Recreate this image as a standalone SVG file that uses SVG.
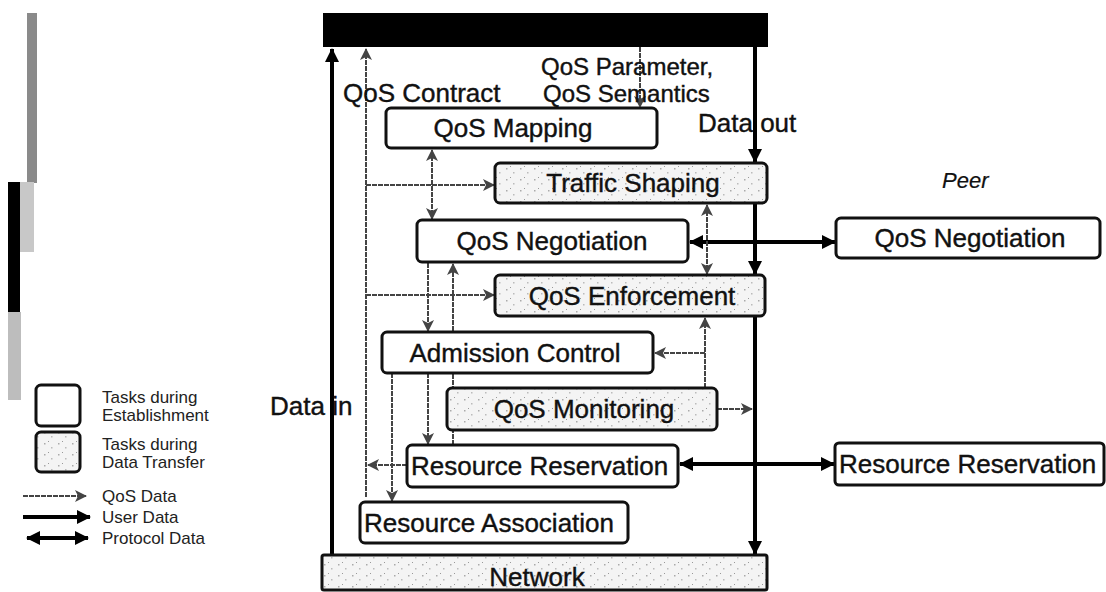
<svg xmlns="http://www.w3.org/2000/svg" width="1106" height="592" viewBox="0 0 1106 592">
<style>
.box{fill:#fff;stroke:#111;stroke-width:3}
.dot{fill:url(#speck);stroke:#111;stroke-width:3}
.t{font-family:"Liberation Sans",Arial,sans-serif;font-size:26px;fill:#111;stroke:#111;stroke-width:0.4}
.tm{text-anchor:middle}
.lg{font-family:"Liberation Sans",Arial,sans-serif;font-size:17px;fill:#222}
.ud{stroke:#000;stroke-width:4;fill:none}
.qd{stroke:#444;stroke-width:2;fill:none;stroke-dasharray:5 1}
.pd{stroke:#000;stroke-width:4;fill:none}
</style>
<defs>
<pattern id="speck" width="14" height="11" patternUnits="userSpaceOnUse">
<rect width="14" height="11" fill="#f4f4f4"/>
<rect x="2" y="3" width="1.5" height="1.5" fill="#aaa"/>
<rect x="9" y="7" width="1.5" height="1.5" fill="#bbb"/>
<rect x="6" y="1" width="1" height="1" fill="#999"/>
</pattern>
<marker id="ua" viewBox="0 0 14 14" refX="13" refY="7" markerWidth="14" markerHeight="14" markerUnits="userSpaceOnUse" orient="auto-start-reverse">
<path d="M0,0 L14,7 L0,14 z" fill="#000"/>
</marker>
<marker id="qa" viewBox="0 0 12 12" refX="11" refY="6" markerWidth="12" markerHeight="12" markerUnits="userSpaceOnUse" orient="auto-start-reverse">
<path d="M0,0 L12,6 L0,12 L3,6 z" fill="#444"/>
</marker>
</defs>

<!-- scan artefacts at left edge -->
<rect x="27" y="13" width="10" height="170" fill="#8a8a8a"/>
<rect x="8" y="182" width="12" height="130" fill="#000"/>
<rect x="20" y="182" width="14" height="70" fill="#c8c8c8"/>
<rect x="8" y="312" width="13" height="88" fill="#bdbdbd"/>

<!-- top black bar -->
<rect id="app" x="323" y="13" width="445" height="34" fill="#000"/>

<g id="connectors">
<!-- user data -->
<path class="ud" d="M332,555 V49" marker-end="url(#ua)"/>
<path class="ud" d="M755,47 V162" marker-end="url(#ua)"/>
<path class="ud" d="M755,203 V274" marker-end="url(#ua)"/>
<path class="ud" d="M755,315 V554" marker-end="url(#ua)"/>
<!-- protocol data -->
<path class="pd" d="M690,242 H835" marker-start="url(#ua)" marker-end="url(#ua)"/>
<path class="pd" d="M680,464 H834" marker-start="url(#ua)" marker-end="url(#ua)"/>
<!-- qos data -->
<path class="qd" d="M366,497 V49" marker-end="url(#qa)"/>
<path class="qd" d="M640,47 V107" marker-end="url(#qa)"/>
<path class="qd" d="M432,150 V219" marker-start="url(#qa)" marker-end="url(#qa)"/>
<path class="qd" d="M366,185 H494" marker-end="url(#qa)"/>
<path class="qd" d="M428,263 V331" marker-end="url(#qa)"/>
<path class="qd" d="M366,295 H494" marker-end="url(#qa)"/>
<path class="qd" d="M453,445 V264" marker-end="url(#qa)"/>
<path class="qd" d="M707,205 V274" marker-start="url(#qa)" marker-end="url(#qa)"/>
<path class="qd" d="M705,388 V318" marker-end="url(#qa)"/>
<path class="qd" d="M705,353 H655" marker-end="url(#qa)"/>
<path class="qd" d="M717,409 H752" marker-end="url(#qa)"/>
<path class="qd" d="M392,373 V501" marker-end="url(#qa)"/>
<path class="qd" d="M428,373 V444" marker-end="url(#qa)"/>
<path class="qd" d="M407,465 H368" marker-end="url(#qa)"/>
</g>

<!-- free labels -->
<text class="t" x="541" y="75" style="font-size:24px">QoS Parameter,</text>
<text class="t" x="543" y="102" style="font-size:24px">QoS Semantics</text>
<text class="t" x="343" y="102">QoS Contract</text>
<text class="t" x="698" y="132">Data out</text>
<text class="t" x="270" y="415">Data in</text>
<text class="t" x="942" y="188" style="font-style:italic;font-size:22px;stroke-width:0.2">Peer</text>

<g id="qos-mapping"><rect class="box" x="386" y="108" width="271" height="40" rx="5"/><text class="t tm" x="513" y="137">QoS Mapping</text></g>
<g id="traffic-shaping"><rect class="dot" x="495" y="163" width="272" height="40" rx="5"/><text class="t tm" x="633" y="192">Traffic Shaping</text></g>
<g id="qos-negotiation"><rect class="box" x="417" y="220" width="271" height="42" rx="5"/><text class="t tm" x="552" y="250">QoS Negotiation</text></g>
<g id="qos-enforcement"><rect class="dot" x="495" y="275" width="270" height="41" rx="5"/><text class="t tm" x="632" y="305">QoS Enforcement</text></g>
<g id="admission-control"><rect class="box" x="382" y="332" width="271" height="41" rx="5"/><text class="t tm" x="515" y="362">Admission Control</text></g>
<g id="qos-monitoring"><rect class="dot" x="447" y="388" width="270" height="42" rx="5"/><text class="t tm" x="584" y="418">QoS Monitoring</text></g>
<g id="resource-reservation"><rect class="box" x="407" y="445" width="271" height="42" rx="5"/><text class="t" x="411" y="475">Resource Reservation</text></g>
<g id="resource-association"><rect class="box" x="360" y="502" width="268" height="41" rx="5"/><text class="t" x="364" y="532">Resource Association</text></g>
<g id="network"><rect class="dot" x="322" y="555" width="445" height="35" rx="2"/><text class="t tm" x="537" y="586">Network</text></g>
<g id="peer-qos-negotiation"><rect class="box" x="836" y="218" width="264" height="40" rx="5"/><text class="t tm" x="970" y="247">QoS Negotiation</text></g>
<g id="peer-resource-reservation"><rect class="box" x="835" y="443" width="269" height="42" rx="4"/><text class="t" x="839" y="473">Resource Reservation</text></g>

<g id="legend">
<rect class="box" x="36" y="385" width="44" height="41" rx="5"/>
<rect class="dot" x="36" y="432" width="44" height="40" rx="5"/>
<text class="lg" x="102" y="403">Tasks during</text>
<text class="lg" x="102" y="421">Establishment</text>
<text class="lg" x="102" y="450">Tasks during</text>
<text class="lg" x="102" y="468">Data Transfer</text>
<path class="qd" d="M23,496 H86" marker-end="url(#qa)"/>
<text class="lg" x="102" y="502">QoS Data</text>
<path class="ud" d="M23,517 H90" marker-end="url(#ua)"/>
<text class="lg" x="102" y="523">User Data</text>
<path class="pd" d="M27,538 H88" marker-start="url(#ua)" marker-end="url(#ua)"/>
<text class="lg" x="102" y="544">Protocol Data</text>
</g>
</svg>
